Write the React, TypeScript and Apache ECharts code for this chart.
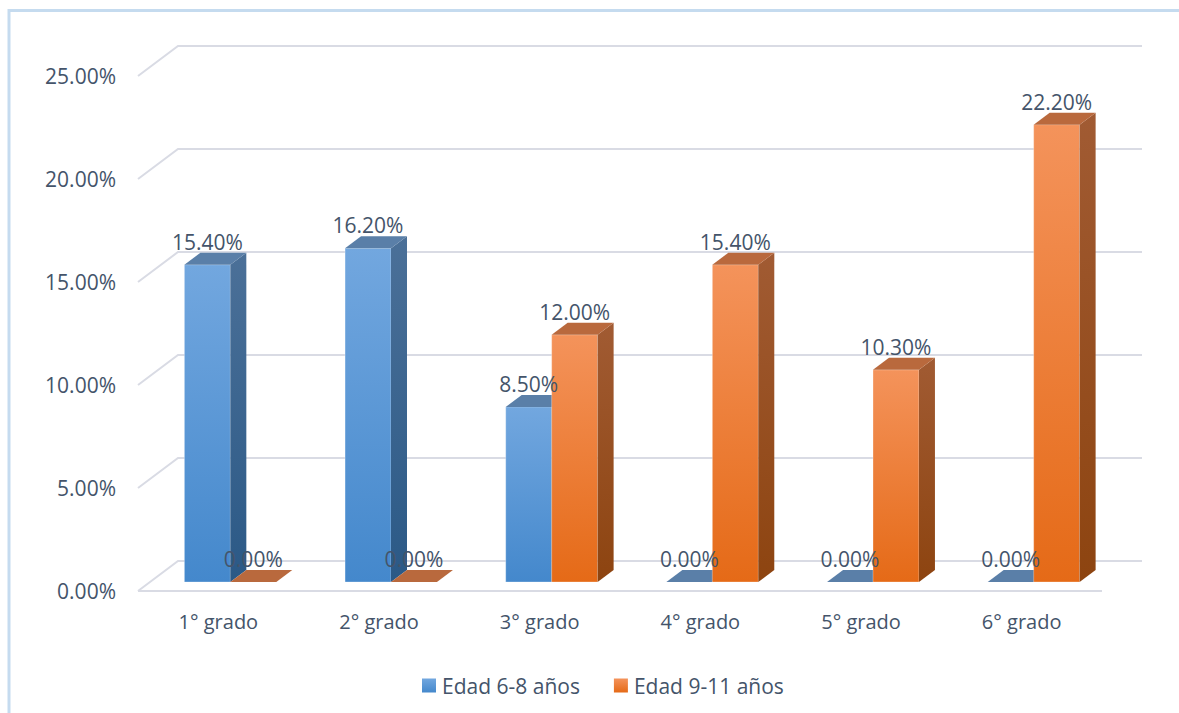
import React, { useEffect, useRef } from "react";
import * as echarts from "echarts";

const categories = ["1° grado", "2° grado", "3° grado", "4° grado", "5° grado", "6° grado"];
const seriesNames = ["Edad 6-8 años", "Edad 9-11 años"];
const edad6a8 = [15.4, 16.2, 8.5, 0, 0, 0];
const edad9a11 = [0, 0, 12.0, 15.4, 10.3, 22.2];
const yTicks = [0, 5, 10, 15, 20, 25];

const FONT = '"Open Sans", "Noto Sans", sans-serif';
const TEXT = "#44546a";
const GRIDC = "#d9dbe4";
const DEPTH_X = 40;
const DEPTH_Y = -30;

const palettes = [
  {
    frontTop: "#72a7df",
    frontBot: "#4488cc",
    sideTop: "#4b7098",
    sideBot: "#2b5986",
    top: "#5a7fa8",
  },
  {
    frontTop: "#f4935b",
    frontBot: "#e56a17",
    sideTop: "#a15b33",
    sideBot: "#8d4410",
    top: "#b9693d",
  },
];

function vgrad(a: string, b: string) {
  return new echarts.graphic.LinearGradient(0, 0, 0, 1, [
    { offset: 0, color: a },
    { offset: 1, color: b },
  ]);
}

function barRenderer(s: number) {
  const p = palettes[s];
  return (params: any, api: any) => {
    const i = api.value(0);
    const v = api.value(1);
    const c = api.coord([i, v]);
    const c0 = api.coord([i, 0]);
    const band = api.size([1, 0])[0];
    const bw = band * 0.286;
    const shiftX = DEPTH_X * 0.3;
    const shiftY = DEPTH_Y * 0.3;
    const dx = DEPTH_X * 0.4;
    const dy = DEPTH_Y * 0.4;
    const L = c[0] + shiftX - bw + s * bw;
    const R = L + bw;
    const bottom = c0[1] + shiftY;
    const top = c[1] + shiftY;
    const children: any[] = [];
    if (bottom - top > 0.5) {
      children.push({
        type: "rect",
        shape: { x: L, y: top, width: bw, height: bottom - top },
        style: { fill: vgrad(p.frontTop, p.frontBot), stroke: "rgba(255,255,255,0.3)", lineWidth: 1 },
      });
      children.push({
        type: "polygon",
        shape: {
          points: [
            [R, top],
            [R + dx, top + dy],
            [R + dx, bottom + dy],
            [R, bottom],
          ],
        },
        style: { fill: vgrad(p.sideTop, p.sideBot) },
      });
    }
    children.push({
      type: "polygon",
      shape: {
        points: [
          [L, top],
          [R, top],
          [R + dx, top + dy],
          [L + dx, top + dy],
        ],
      },
      style: { fill: p.top },
    });
    children.push({
      type: "text",
      z2: 100,
      style: {
        text: v.toFixed(2) + "%",
        x: (L + R) / 2,
        y: top + dy - 11,
        align: "center",
        verticalAlign: "middle",
        fill: TEXT,
        fontSize: 21,
        fontFamily: FONT,
      },
    });
    return { type: "group", children };
  };
}

function gridRenderer(params: any, api: any) {
  const v = api.value(1);
  const cs = params.coordSys;
  const y = api.coord([0, v])[1];
  const x0 = cs.x;
  const x1 = cs.x + cs.width;
  const children: any[] = [
    {
      type: "polyline",
      shape: {
        points: [
          [x0, y],
          [x0 + DEPTH_X, y + DEPTH_Y],
          [x1 + DEPTH_X, y + DEPTH_Y],
        ],
      },
      style: { stroke: GRIDC, lineWidth: 2, fill: null },
    },
  ];
  if (v === 0) {
    children.push({
      type: "line",
      shape: { x1: x0, y1: y, x2: x1, y2: y },
      style: { stroke: GRIDC, lineWidth: 2 },
    });
  }
  return { type: "group", children };
}

export default function App() {
  const ref = useRef<HTMLDivElement>(null);
  useEffect(() => {
    if (!ref.current) return;
    const chart = echarts.init(ref.current, null, { renderer: "svg" });
    const option: any = {
      animation: false,
      backgroundColor: "#ffffff",
      textStyle: { fontFamily: FONT },
      graphic: [
        {
          type: "rect",
          z: -1,
          shape: { x: 9, y: 10.5, width: 1400, height: 900 },
          style: { fill: "none", stroke: "#c5dbef", lineWidth: 3 },
        },
      ],
      grid: { left: 138, right: 77, top: 76, bottom: 122, containLabel: false },
      legend: {
        data: seriesNames,
        left: 417,
        top: 670,
        icon: "rect",
        itemWidth: 14,
        itemHeight: 14,
        itemGap: 34,
        selectedMode: false,
        textStyle: { fontSize: 21, color: TEXT, fontFamily: FONT, padding: [0, 0, 0, 1] },
      },
      xAxis: {
        type: "category",
        data: categories,
        axisLine: { show: false },
        axisTick: { show: false },
        splitLine: { show: false },
        axisLabel: { fontSize: 20, color: TEXT, fontFamily: FONT, margin: 20 },
      },
      yAxis: {
        type: "value",
        min: 0,
        max: 25,
        interval: 5,
        axisLine: { show: false },
        axisTick: { show: false },
        splitLine: { show: false },
        axisLabel: {
          fontSize: 21,
          color: TEXT,
          fontFamily: FONT,
          margin: 22,
          formatter: (v: number) => v.toFixed(2) + "%",
        },
      },
      series: [
        {
          type: "custom",
          name: "grid3d",
          z: 1,
          silent: true,
          renderItem: gridRenderer,
          data: yTicks.map((t) => [0, t]),
        },
        {
          type: "custom",
          name: seriesNames[0],
          z: 2,
          itemStyle: { color: vgrad(palettes[0].frontTop, palettes[0].frontBot) },
          renderItem: barRenderer(0),
          data: edad6a8.map((v, i) => [i, v]),
        },
        {
          type: "custom",
          name: seriesNames[1],
          z: 2,
          itemStyle: { color: vgrad(palettes[1].frontTop, palettes[1].frontBot) },
          renderItem: barRenderer(1),
          data: edad9a11.map((v, i) => [i, v]),
        },
      ],
    };
    chart.setOption(option);
    return () => chart.dispose();
  }, []);
  return (
    <div
      ref={ref}
      style={{ position: "fixed", left: 0, top: 0, width: 1179, height: 713, background: "#fff" }}
    />
  );
}
